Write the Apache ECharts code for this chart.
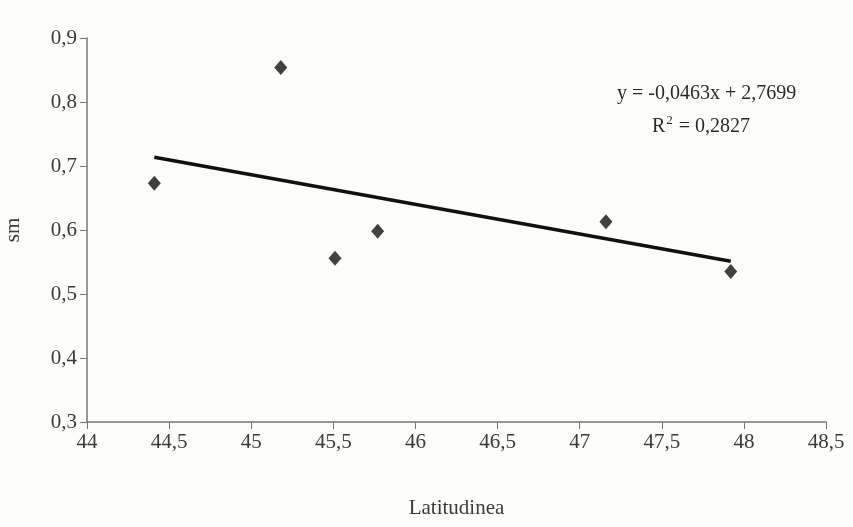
<!DOCTYPE html>
<html>
<head>
<meta charset="utf-8">
<script src="https://cdn.jsdelivr.net/npm/echarts@6/dist/echarts.min.js"></script>
<style>
  html, body { margin: 0; padding: 0; background: #fdfdf9; }
  #main { width: 853px; height: 527px; }
</style>
</head>
<body>
<div id="main"></div>
<script>
// scatter points (latitude, sm)
var latitudes = [44.41, 45.18, 45.51, 45.77, 47.16, 47.92];
var smValues = [0.673, 0.854, 0.556, 0.598, 0.613, 0.535];

// trend line from the printed equation
var slope = -0.0463;
var intercept = 2.7699;
var trendX = [44.41, 47.92];

var xTicks = ['44', '44,5', '45', '45,5', '46', '46,5', '47', '47,5', '48', '48,5'];
var yTicks = ['0,3', '0,4', '0,5', '0,6', '0,7', '0,8', '0,9'];

var chartDom = document.getElementById('main');
var myChart = echarts.init(chartDom);
var option;

var points = latitudes.map(function (x, i) { return [x, smValues[i]]; });
var trend = trendX.map(function (x) { return [x, slope * x + intercept]; });

var font = 'Liberation Serif';
var txt = '#3a3a3a';

option = {
    backgroundColor: '#fdfdf9',
    animation: false,
    grid: { left: 87, right: 27, top: 38, bottom: 105, outerBoundsMode: 'none', containLabel: false },
    xAxis: {
        type: 'value',
        min: 44,
        max: 48.5,
        interval: 0.5,
        name: 'Latitudinea',
        nameLocation: 'middle',
        nameGap: 76,
        nameTextStyle: { fontFamily: font, fontSize: 21, color: txt },
        axisLine: { lineStyle: { color: '#777', width: 1.5 } },
        axisTick: { show: true, length: 7, lineStyle: { color: '#777' } },
        splitLine: { show: false },
        axisLabel: {
            fontFamily: font, fontSize: 21, color: txt, margin: 10,
            formatter: function (v) { return xTicks[Math.round((v - 44) / 0.5)]; }
        }
    },
    yAxis: {
        type: 'value',
        min: 0.3,
        max: 0.9,
        interval: 0.1,
        name: 'sm',
        nameLocation: 'middle',
        nameGap: 63,
        nameTextStyle: { fontFamily: font, fontSize: 21, color: txt },
        axisLine: { show: true, lineStyle: { color: '#777', width: 1.5 } },
        axisTick: { show: true, length: 7, lineStyle: { color: '#777' } },
        splitLine: { show: false },
        axisLabel: {
            fontFamily: font, fontSize: 21, color: txt, margin: 10,
            formatter: function (v) { return yTicks[Math.round((v - 0.3) / 0.1)]; }
        }
    },
    series: [
        {
            type: 'line',
            data: trend,
            symbol: 'none',
            lineStyle: { color: '#111', width: 3.5 },
            z: 2
        },
        {
            type: 'scatter',
            data: points,
            symbol: 'diamond',
            symbolSize: [13, 15],
            itemStyle: { color: '#111' },
            z: 3
        }
    ],
    graphic: [
        {
            type: 'text',
            left: 617,
            top: 84,
            style: { text: 'y = -0,0463x + 2,7699', font: '20px "Liberation Serif"', fill: '#2a2a2a' }
        },
        {
            type: 'text',
            left: 652,
            top: 114,
            style: {
                text: '{r|R}{s|2}{r| = 0,2827}',
                font: '20px "Liberation Serif"',
                fill: '#2a2a2a',
                rich: {
                    r: { fontFamily: font, fontSize: 20, fill: '#2a2a2a', verticalAlign: 'bottom' },
                    s: { fontFamily: font, fontSize: 13, fill: '#2a2a2a', verticalAlign: 'top', padding: [0, 1, 10, 1] }
                }
            }
        }
    ]
};

option && myChart.setOption(option);
</script>
</body>
</html>
